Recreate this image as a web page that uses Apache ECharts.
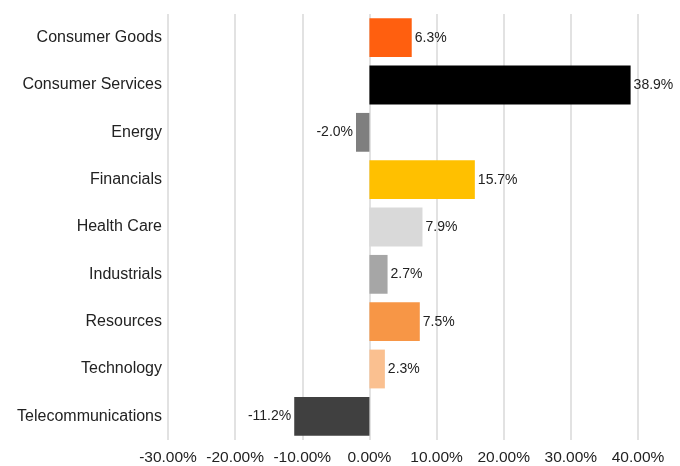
<!DOCTYPE html>
<html>
<head>
<meta charset="utf-8">
<script src="https://cdn.jsdelivr.net/npm/echarts@6/dist/echarts.min.js"></script>
<style>
  html, body { margin: 0; padding: 0; background: #fff; }
  #chart { width: 680px; height: 466px; }
</style>
</head>
<body>
<div id="chart"></div>
<script>
// sectors, top to bottom
const sectors = ['Consumer Goods', 'Consumer Services', 'Energy', 'Financials', 'Health Care',
  'Industrials', 'Resources', 'Technology', 'Telecommunications'];
const returns = [6.3, 38.9, -2.0, 15.7, 7.9, 2.7, 7.5, 2.3, -11.2];
const barColors = ['#FF5F0F', '#000000', '#7F7F7F', '#FFC000', '#D9D9D9',
  '#A6A6A6', '#F79646', '#FAC090', '#404040'];

var myChart = echarts.init(document.getElementById('chart'));

var seriesData = returns.map(function (v, i) {
  return {
    value: v,
    itemStyle: { color: barColors[i] },
    label: { position: v < 0 ? 'left' : 'right' }
  };
});

var option = {
  animation: false,
  grid: { left: 168, right: 42, top: 14, bottom: 26 },
  xAxis: {
    type: 'value',
    min: -30,
    max: 40,
    interval: 10,
    axisLine: { show: false },
    axisTick: { show: false },
    splitLine: { lineStyle: { color: '#D9D9D9', width: 1.5 } },
    axisLabel: {
      formatter: function (v) { return v.toFixed(2) + '%'; },
      fontFamily: 'Liberation Sans',
      fontSize: 15.5,
      color: '#222',
      margin: 10
    }
  },
  yAxis: {
    type: 'category',
    data: sectors,
    inverse: true,
    axisLine: { show: false },
    axisTick: { show: false },
    axisLabel: {
      fontFamily: 'Liberation Sans',
      fontSize: 16,
      color: '#222',
      margin: 6
    }
  },
  series: [{
    type: 'bar',
    data: seriesData,
    barCategoryGap: '18%',
    label: {
      show: true,
      fontFamily: 'Liberation Sans',
      fontSize: 14,
      color: '#222',
      distance: 3,
      formatter: function (p) { return p.value.toFixed(1) + '%'; }
    }
  }]
};

myChart.setOption(option);
</script>
</body>
</html>
